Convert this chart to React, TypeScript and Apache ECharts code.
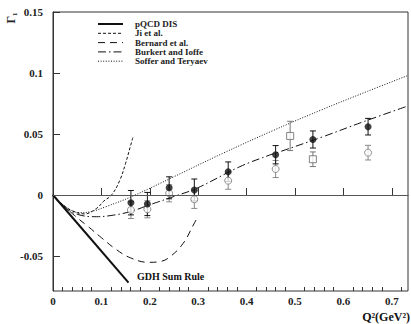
import React, { useEffect, useRef } from "react";
import * as echarts from "echarts";

// ---- data ----
const xTicks = [0, 0.1, 0.2, 0.3, 0.4, 0.5, 0.6, 0.7];
const xMinorTicks = [0.02,0.04,0.06,0.08,0.12,0.14,0.16,0.18,0.22,0.24,0.26,0.28,0.32,0.34,0.36,0.38,0.42,0.44,0.46,0.48,0.52,0.54,0.56,0.58,0.62,0.64,0.66,0.68,0.72];
const yTicks = [-0.05, 0, 0.05, 0.1, 0.15];

const pqcd = [[0, 0], [0.156, -0.0719]];
const ji = [[0,0],[0.02,-0.008],[0.04,-0.013],[0.065,-0.0155],[0.09,-0.011],[0.105,-0.005],[0.121,0.0],[0.138,0.012],[0.15,0.026],[0.16,0.04],[0.165,0.047]];
const bernard = [[0,0],[0.021,-0.0082],[0.045,-0.017],[0.073,-0.026],[0.1,-0.035],[0.13,-0.0445],[0.16,-0.0515],[0.197,-0.0552],[0.222,-0.0545],[0.242,-0.0506],[0.269,-0.0396],[0.29,-0.0246],[0.3,-0.017]];
const burkert = [[0,0],[0.02,-0.009],[0.05,-0.0158],[0.09,-0.0178],[0.12,-0.0168],[0.159,-0.0137],[0.2,-0.008],[0.25,-0.0012],[0.297,0.0055],[0.386,0.0232],[0.448,0.0328],[0.469,0.0355],[0.558,0.0478],[0.641,0.06],[0.7335,0.073]];
const soffer = [[0,0],[0.02,-0.008],[0.056,-0.0145],[0.08,-0.0135],[0.11,-0.0095],[0.162,-0.0014],[0.25,0.015],[0.35,0.034],[0.45,0.052],[0.55,0.069],[0.65,0.085],[0.7335,0.098]];

// [Q2, Gamma, error]
const filledPts = [[0.161,-0.0063,0.0100],[0.195,-0.0074,0.0095],[0.240,0.0059,0.0090],[0.292,0.0041,0.0090],[0.362,0.0191,0.0080],[0.460,0.0330,0.0075],[0.537,0.0455,0.0070],[0.651,0.0560,0.0068]];
const openCirclePts = [[0.161,-0.0123,0.0070],[0.195,-0.0117,0.0070],[0.240,0.0014,0.0070],[0.292,-0.0035,0.0075],[0.362,0.0117,0.0070],[0.460,0.0213,0.0070],[0.651,0.0347,0.0060]];
const openSquarePts = [[0.490,0.0484,0.0120],[0.537,0.0293,0.0060]];

const legendItems = [
  { name: "pQCD DIS", dash: null as any, width: 2 },
  { name: "Ji et al.", dash: [3, 2], width: 1 },
  { name: "Bernard et al.", dash: [7, 5], width: 1 },
  { name: "Burkert and Ioffe", dash: [8, 3, 1.5, 3], width: 1 },
  { name: "Soffer and Teryaev", dash: [1, 1.6], width: 1 },
];

const FONT = "'Liberation Serif', 'Times New Roman', serif";

function errSeries(data: number[][], color: string) {
  return {
    type: "custom",
    data,
    silent: true,
    z: 3,
    renderItem: (params: any, api: any) => {
      const x = api.value(0), y = api.value(1), e = api.value(2);
      const hi = api.coord([x, y + e]);
      const lo = api.coord([x, y - e]);
      const w = 3;
      const st = { stroke: color, lineWidth: 1 };
      return {
        type: "group",
        children: [
          { type: "line", shape: { x1: hi[0], y1: hi[1], x2: lo[0], y2: lo[1] }, style: st },
          { type: "line", shape: { x1: hi[0] - w, y1: hi[1], x2: hi[0] + w, y2: hi[1] }, style: st },
          { type: "line", shape: { x1: lo[0] - w, y1: lo[1], x2: lo[0] + w, y2: lo[1] }, style: st },
        ],
      };
    },
  };
}

function curve(data: number[][], dash: any, width: number) {
  return {
    type: "line",
    data,
    smooth: 0.4,
    symbol: "none",
    silent: true,
    z: 2,
    lineStyle: { color: "#111", width, type: dash || "solid" },
  };
}

export default function App() {
  const ref = useRef<HTMLDivElement>(null);
  useEffect(() => {
    const chart = echarts.init(ref.current!, null, { renderer: "svg" });
    const labelStyle = { fontFamily: FONT, fontWeight: "bold", fontSize: 11, color: "#222" };
    const legendGraphics: any[] = [];
    legendItems.forEach((it, i) => {
      const y = 24 + i * 9.3;
      legendGraphics.push({
        type: "line",
        shape: { x1: 98, y1: y, x2: 123, y2: y },
        style: { stroke: "#111", lineWidth: it.width, lineDash: it.dash || undefined },
      });
      legendGraphics.push({
        type: "text",
        x: 135,
        y: y,
        style: { text: it.name, font: `bold 9px ${FONT}`, fill: "#222", verticalAlign: "middle", align: "left" },
      });
    });
    chart.setOption({
      animation: false,
      backgroundColor: "#fff",
      grid: { left: 53, right: 3, top: 12, bottom: 33, show: true, borderColor: "#333", borderWidth: 1, backgroundColor: "transparent" },
      xAxis: [
        {
          type: "value", min: 0, max: 0.7335,
          axisLine: { show: true, lineStyle: { color: "#333" } },
          axisTick: { show: true, inside: true, length: 7, customValues: xTicks, lineStyle: { color: "#333" } },
          axisLabel: { customValues: xTicks, margin: 4, ...labelStyle, formatter: (v: number) => String(+v.toFixed(2)) },
          splitLine: { show: false },
        },
        {
          type: "value", min: 0, max: 0.7335, position: "bottom",
          axisLine: { show: false },
          axisTick: { show: true, inside: true, length: 4, customValues: xMinorTicks, lineStyle: { color: "#333" } },
          axisLabel: { show: false },
          splitLine: { show: false },
        },
      ],
      yAxis: {
        type: "value", min: -0.0787, max: 0.15,
        axisLine: { show: true, lineStyle: { color: "#333" } },
        axisTick: { show: true, inside: true, length: 7, customValues: yTicks, lineStyle: { color: "#333" } },
        axisLabel: { customValues: yTicks, margin: 10, ...labelStyle, formatter: (v: number) => String(+v.toFixed(2)) },
        splitLine: { show: false },
      },
      graphic: [
        {
          type: "text", x: 11, y: 18, rotation: Math.PI / 2,
          style: { text: "Γ₁", font: `bold 12px ${FONT}`, fill: "#222", align: "center", verticalAlign: "middle" },
        },
        {
          type: "text", x: 137, y: 276,
          style: { text: "GDH Sum Rule", font: `bold 10px ${FONT}`, fill: "#111", align: "left", verticalAlign: "middle" },
        },
        {
          type: "text", x: 410, y: 323,
          style: { text: "Q²(GeV²)", font: `bold 12px ${FONT}`, fill: "#111", align: "right", verticalAlign: "bottom" },
        },
        ...legendGraphics,
      ],
      series: [
        {
          type: "line", data: [], symbol: "none",
          markLine: { silent: true, symbol: "none", label: { show: false }, lineStyle: { color: "#555", width: 1, type: "solid" }, data: [{ yAxis: 0 }] },
        },
        curve(pqcd, null, 2),
        curve(ji, [3, 2], 1),
        curve(bernard, [7, 5], 1),
        curve(burkert, [8, 3, 1.5, 3], 1),
        curve(soffer, [1, 1.6], 1),
        errSeries(openCirclePts, "#888"),
        errSeries(openSquarePts, "#777"),
        errSeries(filledPts, "#111"),
        {
          type: "scatter", data: openCirclePts.map((p) => [p[0], p[1]]), symbol: "circle", symbolSize: 7, z: 4,
          itemStyle: { color: "#fff", borderColor: "#777", borderWidth: 1 },
        },
        {
          type: "scatter", data: openSquarePts.map((p) => [p[0], p[1]]), symbol: "rect", symbolSize: 7, z: 4,
          itemStyle: { color: "#fff", borderColor: "#666", borderWidth: 1 },
        },
        {
          type: "scatter", data: filledPts.map((p) => [p[0], p[1]]), symbol: "circle", symbolSize: 7, z: 5,
          itemStyle: { color: "#111" },
        },
      ],
    });
    return () => chart.dispose();
  }, []);
  return <div ref={ref} style={{ width: 411, height: 324, position: "absolute", left: 0, top: 0 }} />;
}
